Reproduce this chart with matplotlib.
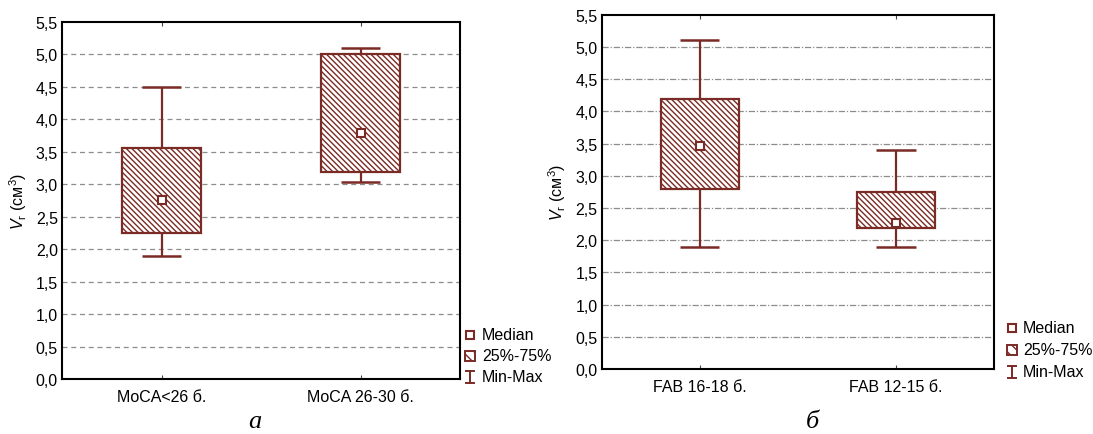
import matplotlib
matplotlib.use("Agg")
import matplotlib.pyplot as plt
from matplotlib.patches import Rectangle

plt.rcParams['font.family'] = ['Liberation Sans', 'DejaVu Sans']
plt.rcParams['mathtext.fontset'] = 'custom'
plt.rcParams['mathtext.rm'] = 'Liberation Sans'
plt.rcParams['mathtext.it'] = 'Liberation Sans:italic'
plt.rcParams['hatch.linewidth'] = 1.0

# ---- data ----
cats_a = ["MoCA<26 б.", "MoCA 26-30 б."]
min_a = [1.90, 3.03]
q1_a = [2.24, 3.19]
med_a = [2.76, 3.78]
q3_a = [3.56, 5.00]
max_a = [4.50, 5.10]

cats_b = ["FAB 16-18 б.", "FAB 12-15 б."]
min_b = [1.90, 1.90]
q1_b = [2.80, 2.19]
med_b = [3.46, 2.27]
q3_b = [4.19, 2.75]
max_b = [5.10, 3.40]

yticks = [0.0, 0.5, 1.0, 1.5, 2.0, 2.5, 3.0, 3.5, 4.0, 4.5, 5.0, 5.5]
ytick_labels = ["0,0", "0,5", "1,0", "1,5", "2,0", "2,5", "3,0", "3,5", "4,0", "4,5", "5,0", "5,5"]
legend_labels = ["Median", "25%-75%", "Min-Max"]

COL = "#7a2b25"
W, H = 1093, 435
fig = plt.figure(figsize=(W / 100, H / 100), dpi=100)


def px_axes(l, t, r, b):
    return fig.add_axes([l / W, 1 - b / H, (r - l) / W, (b - t) / H])


def draw_panel(ax, cats, mn, q1, md, q3, mx, gridstyle):
    pos = list(range(len(cats)))
    ax.set_xlim(-0.5, len(cats) - 0.5)
    ax.set_ylim(0, 5.5)
    for y in yticks[1:-1]:
        ax.axhline(y, color="#8c8c8c", lw=0.9, ls=gridstyle, zorder=0)
    ax.set_yticks(yticks)
    ax.set_yticklabels(ytick_labels, fontsize=11.5)
    ax.set_xticks(pos)
    ax.set_xticklabels(cats, fontsize=11.5)
    ax.tick_params(axis='y', length=0, pad=3)
    ax.tick_params(axis='x', direction='in', length=3, width=0.8, top=True, pad=7,
                   color="#444444")
    for s in ax.spines.values():
        s.set_linewidth(1.5)
        s.set_color("black")
    ax.bar(pos, [b - a for a, b in zip(q1, q3)], bottom=q1, width=0.4,
           facecolor="white", edgecolor=COL, hatch="\\\\\\\\\\\\", linewidth=1.6, zorder=3)
    ax.vlines(pos, mn, q1, color=COL, lw=1.6, zorder=3)
    ax.vlines(pos, q3, mx, color=COL, lw=1.6, zorder=3)
    ax.hlines(mn, [p - 0.1 for p in pos], [p + 0.1 for p in pos], color=COL, lw=1.8, zorder=3)
    ax.hlines(mx, [p - 0.1 for p in pos], [p + 0.1 for p in pos], color=COL, lw=1.8, zorder=3)
    ax.plot(pos, md, ls="none", marker="s", ms=6, mfc="white", mec=COL, mew=1.5, zorder=4)
    ax.set_ylabel(r"$V_{\mathrm{г}}$ (см$^3$)", fontsize=11.5, labelpad=5)


ax1 = px_axes(62, 22.7, 460, 380)
draw_panel(ax1, cats_a, min_a, q1_a, med_a, q3_a, max_a, (0, (4, 3)))
ax2 = px_axes(601.7, 15.7, 994, 370)
draw_panel(ax2, cats_b, min_b, q1_b, med_b, q3_b, max_b, (0, (5, 1.5, 1, 1.5)))

# overlay for legends and panel letters (figure pixel coordinates)
ov = fig.add_axes([0, 0, 1, 1])
ov.set_xlim(0, W)
ov.set_ylim(H, 0)
ov.axis("off")


def legend(x, ys, tx):
    ov.plot([x], [ys[0]], marker="s", ms=6, mfc="white", mec=COL, mew=1.5, ls="none")
    ov.add_patch(Rectangle((x - 5, ys[1] - 5), 10, 10, facecolor="white", edgecolor=COL,
                           hatch="\\\\\\", lw=1.4))
    ov.plot([x, x], [ys[2] - 6, ys[2] + 6], color=COL, lw=1.4)
    ov.plot([x - 4, x + 4], [ys[2] - 6, ys[2] - 6], color=COL, lw=1.4)
    ov.plot([x - 4, x + 4], [ys[2] + 6, ys[2] + 6], color=COL, lw=1.4)
    for y, lab in zip(ys, legend_labels):
        ov.text(tx, y, lab, fontsize=11.5, va="center", ha="left")


legend(470, [336, 357, 378], 482)
legend(1012, [329, 351, 373], 1023)

ov.text(255, 422, "а", fontsize=19, family="Liberation Serif", style="italic",
        ha="center", va="center")
ov.text(812, 422, "б", fontsize=19, family="Liberation Serif", style="italic",
        ha="center", va="center")

fig.savefig("out.png", dpi=100)
